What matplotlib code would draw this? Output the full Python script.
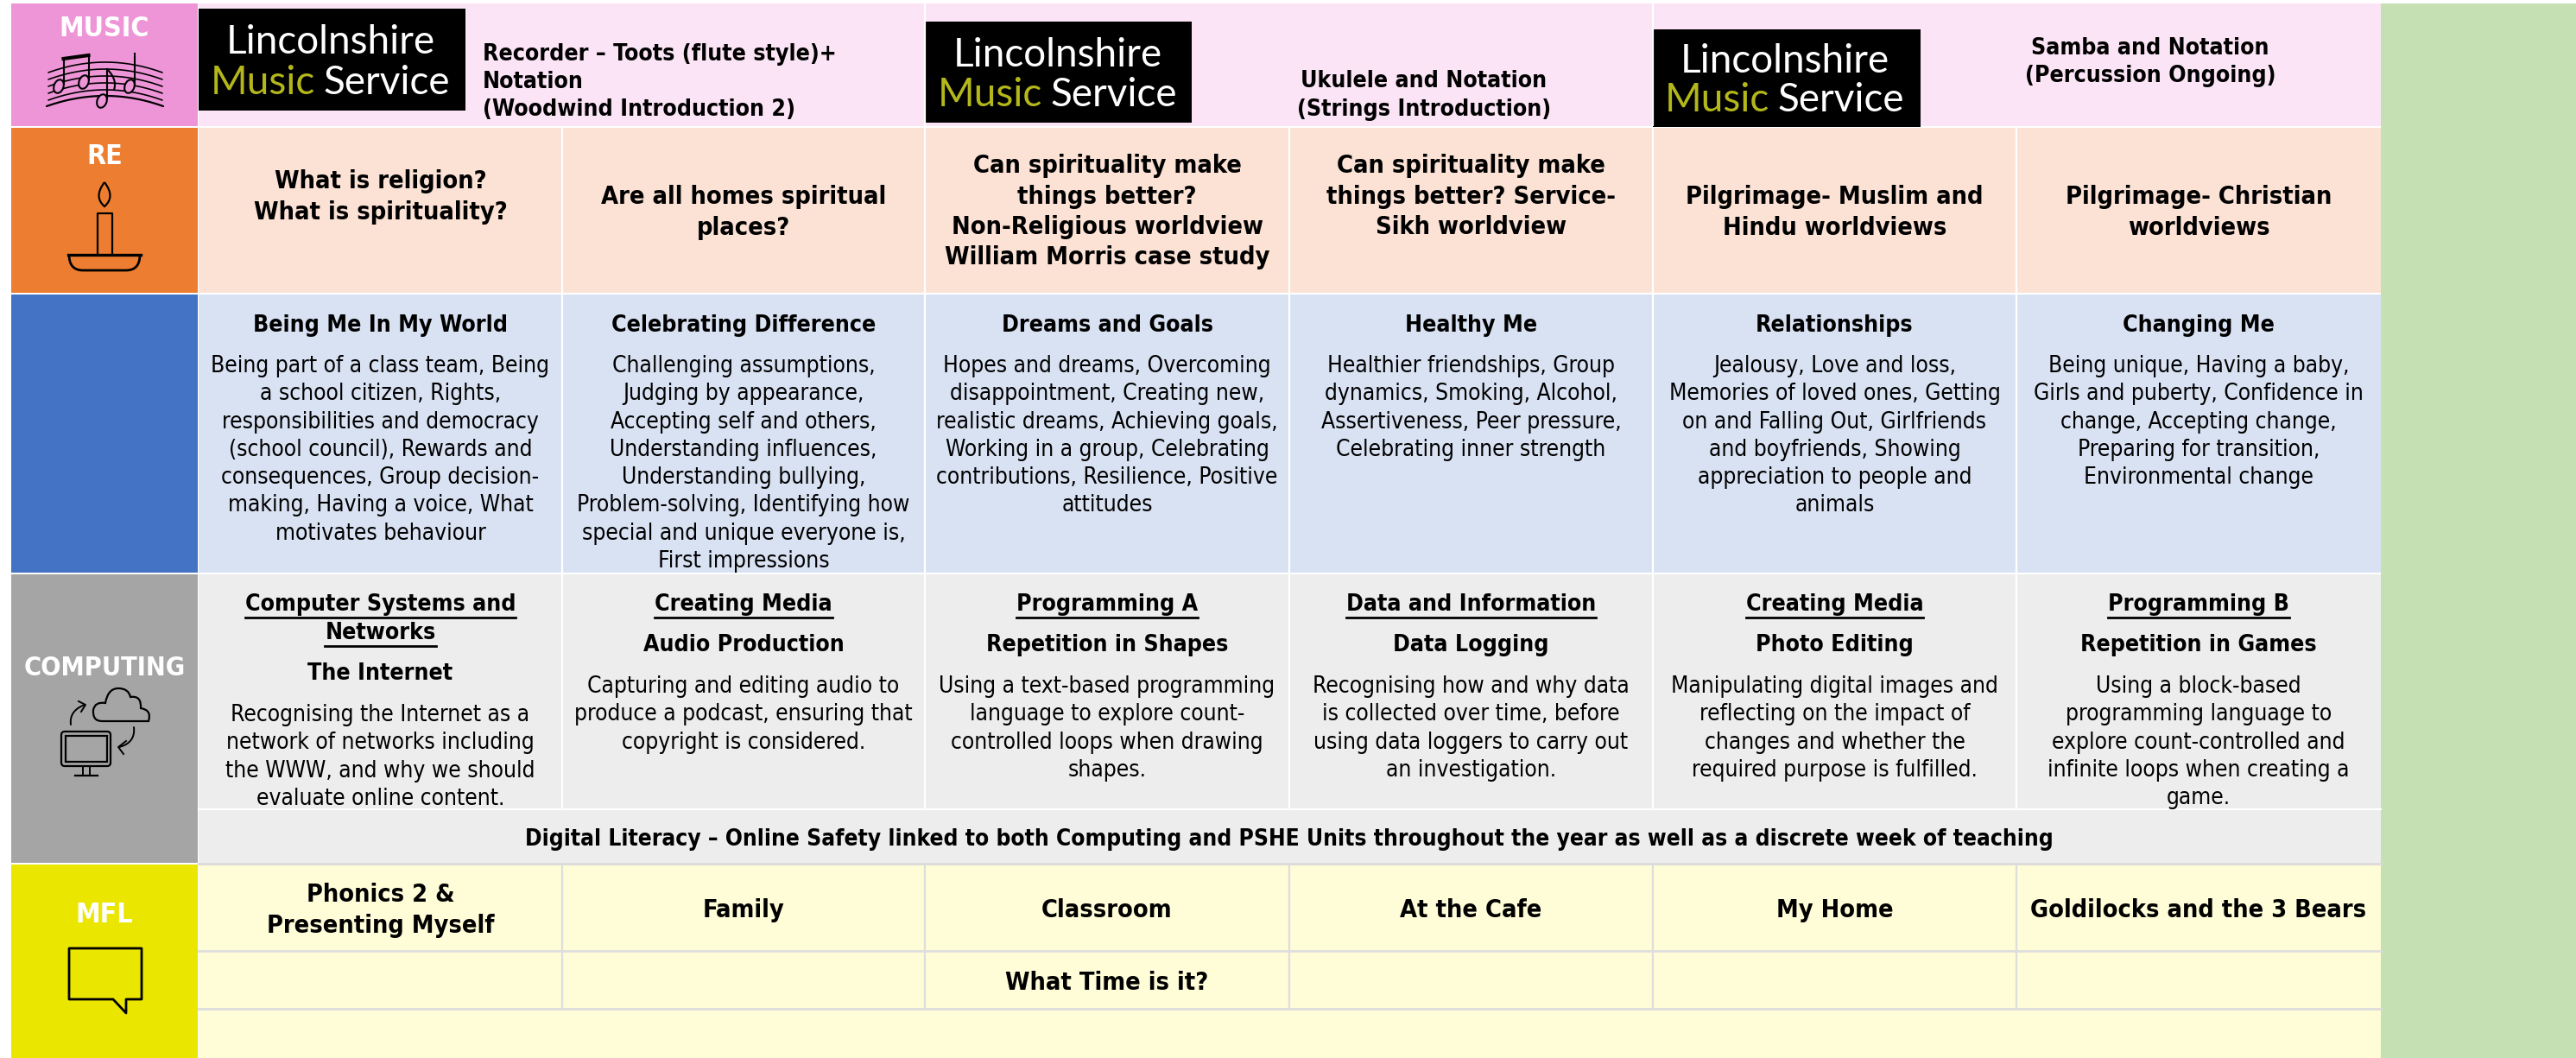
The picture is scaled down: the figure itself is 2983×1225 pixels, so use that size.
import matplotlib
matplotlib.use('Agg')
import matplotlib.pyplot as plt
from matplotlib.patches import Rectangle, Ellipse, PathPatch, Polygon, FancyBboxPatch
from matplotlib.path import Path
import numpy as np

plt.rcParams['font.family'] = ['DejaVu Sans']
plt.rcParams['font.stretch'] = 'condensed'

# column edges of the grid, in reference pixels
col_x = [230, 651, 1071, 1493, 1914, 2335, 2757]
W, H = 2983, 1225

labels = ['MUSIC', 'RE', 'COMPUTING', 'MFL']

music_1 = ['Recorder – Toots (flute style)+', 'Notation', '(Woodwind Introduction 2)']
music_2 = ['Ukulele and Notation', '(Strings Introduction)']
music_3 = ['Samba and Notation', '(Percussion Ongoing)']

re_cells = [
    ['What is religion?', 'What is spirituality?'],
    ['Are all homes spiritual', 'places?'],
    ['Can spirituality make', 'things better?', 'Non-Religious worldview', 'William Morris case study'],
    ['Can spirituality make', 'things better? Service-', 'Sikh worldview'],
    ['Pilgrimage- Muslim and', 'Hindu worldviews'],
    ['Pilgrimage- Christian', 'worldviews'],
]

pshe_titles = ['Being Me In My World', 'Celebrating Difference', 'Dreams and Goals',
               'Healthy Me', 'Relationships', 'Changing Me']
pshe_body = [
    ['Being part of a class team, Being', 'a school citizen, Rights,', 'responsibilities and democracy',
     '(school council), Rewards and', 'consequences, Group decision-', 'making, Having a voice, What',
     'motivates behaviour'],
    ['Challenging assumptions,', 'Judging by appearance,', 'Accepting self and others,',
     'Understanding influences,', 'Understanding bullying,', 'Problem-solving, Identifying how',
     'special and unique everyone is,', 'First impressions'],
    ['Hopes and dreams, Overcoming', 'disappointment, Creating new,', 'realistic dreams, Achieving goals,',
     'Working in a group, Celebrating', 'contributions, Resilience, Positive', 'attitudes'],
    ['Healthier friendships, Group', 'dynamics, Smoking, Alcohol,', 'Assertiveness, Peer pressure,',
     'Celebrating inner strength'],
    ['Jealousy, Love and loss,', 'Memories of loved ones, Getting', 'on and Falling Out, Girlfriends',
     'and boyfriends, Showing', 'appreciation to people and', 'animals'],
    ['Being unique, Having a baby,', 'Girls and puberty, Confidence in', 'change, Accepting change,',
     'Preparing for transition,', 'Environmental change'],
]

comp_heads = [['Computer Systems and', 'Networks'], ['Creating Media'], ['Programming A'],
              ['Data and Information'], ['Creating Media'], ['Programming B']]
comp_subs = ['The Internet', 'Audio Production', 'Repetition in Shapes', 'Data Logging',
             'Photo Editing', 'Repetition in Games']
comp_body = [
    ['Recognising the Internet as a', 'network of networks including', 'the WWW, and why we should',
     'evaluate online content.'],
    ['Capturing and editing audio to', 'produce a podcast, ensuring that', 'copyright is considered.'],
    ['Using a text-based programming', 'language to explore count-', 'controlled loops when drawing',
     'shapes.'],
    ['Recognising how and why data', 'is collected over time, before', 'using data loggers to carry out',
     'an investigation.'],
    ['Manipulating digital images and', 'reflecting on the impact of', 'changes and whether the',
     'required purpose is fulfilled.'],
    ['Using a block-based', 'programming language to', 'explore count-controlled and',
     'infinite loops when creating a', 'game.'],
]
digital = 'Digital Literacy – Online Safety linked to both Computing and PSHE Units throughout the year as well as a discrete week of teaching'

mfl_cells = [['Phonics 2 &', 'Presenting Myself'], ['Family'], ['Classroom'], ['At the Cafe'],
             ['My Home'], ['Goldilocks and the 3 Bears']]
mfl_time = 'What Time is it?'

fig = plt.figure(figsize=(W / 100, H / 100), dpi=100)
ax = fig.add_axes([0, 0, 1, 1])
ax.set_xlim(0, W)
ax.set_ylim(H, 0)
ax.axis('off')


def box(x0, y0, x1, y1, c):
    ax.add_patch(Rectangle((x0, y0), x1 - x0, y1 - y0, fc=c, ec='none', zorder=1))


def vlines(y0, y1, c='white', xs=col_x[1:-1]):
    for x in xs:
        ax.plot([x, x], [y0, y1], color=c, lw=1.6, zorder=2, solid_capstyle='butt')


def put(x, y, s, size=19, bold=False, color='black', ha='center', **kw):
    return ax.text(x, y, s, fontsize=size, fontweight='bold' if bold else 'normal',
                   color=color, ha=ha, va='center', zorder=5, **kw)


def curve(pts, lw=1.6, c='black'):
    pts = np.array(pts, float)
    t = np.linspace(0, 1, 60)
    # quadratic through three control points
    xy = np.outer((1 - t) ** 2, pts[0]) + np.outer(2 * t * (1 - t), pts[1]) + np.outer(t ** 2, pts[2])
    ax.plot(xy[:, 0], xy[:, 1], color=c, lw=lw, zorder=4, solid_capstyle='round')


def logo(x0, y0, w, h):
    box(x0, y0, x0 + w, y0 + h, 'black')
    ax.text(x0 + 153, y0 + h * 0.33, 'Lincolnshire', color='white', fontsize=33, family='Lato',
            stretch='normal', ha='center', va='center', zorder=5)
    ax.text(x0 + 74, y0 + h * 0.73, 'Music', color='#B4B71A', fontsize=33, family='Lato',
            stretch='normal', ha='center', va='center', zorder=5)
    ax.text(x0 + 218, y0 + h * 0.73, 'Service', color='white', fontsize=33, family='Lato',
            stretch='normal', ha='center', va='center', zorder=5)


# bands
box(0, 0, W, H, 'white')
box(2757, 4, W, H, '#C5E0B3')
box(13, 4, 229, 146, '#EE95D8')
box(230, 4, 2757, 146, '#FBE4F5')
box(13, 148, 229, 339, '#ED7D31')
box(230, 148, 2757, 339, '#FBE2D5')
box(13, 341, 229, 663, '#4472C4')
box(230, 341, 2757, 663, '#D9E2F3')
box(13, 665, 229, 999, '#A5A5A5')
box(230, 665, 2757, 1000, '#EDEDED')
box(13, 1001, 229, H, '#EAE600')
box(230, 1001, 2757, H, '#FFFCD8')

# grid lines
vlines(4, 146, xs=[1071, 1914])
vlines(148, 339)
vlines(341, 663)
vlines(665, 937)
ax.plot([230, 2757], [937, 937], color='white', lw=1.6, zorder=2)
ax.plot([230, 2757], [1000, 1000], color='#DADADA', lw=2, zorder=2)
vlines(1001, 1167, c='#DDDDDD')
ax.plot([230, 2757], [1101, 1101], color='#DDDDDD', lw=2, zorder=2)
ax.plot([230, 2757], [1168, 1168], color='#DDDDDD', lw=2, zorder=2)

# left column labels
label_y = [33, 181, 773, 1059]
label_size = [23, 23, 22, 23]
for s, y, sz in zip(labels, label_y, label_size):
    put(121, y, s, size=sz, bold=True, color='white')

# music row
logo(230, 10, 309, 118)
logo(1072, 25, 308, 117)
logo(1914, 34, 310, 113)
for i, s in enumerate(music_1):
    put(559, 63 + i * 32, s, size=19.2, bold=True, ha='left')
for i, s in enumerate(music_2):
    put(1649, 94 + i * 33, s, size=19.2, bold=True)
for i, s in enumerate(music_3):
    put(2490, 56 + i * 32, s, size=19.2, bold=True)

# RE row
mids = [(a + b) / 2 for a, b in zip(col_x[:-1], col_x[1:])]
re_top = [210, 228, 192, 192, 228, 228]
for cx, y0, lines in zip(mids, re_top, re_cells):
    for i, s in enumerate(lines):
        put(cx, y0 + i * 35.5, s, size=20.8, bold=True)

# PSHE row
for cx, t, body in zip(mids, pshe_titles, pshe_body):
    put(cx, 377, t, size=19.2, bold=True)
    for i, s in enumerate(body):
        put(cx, 424 + i * 32.3, s, size=18.9)

# computing row
fig.canvas.draw()
rend = fig.canvas.get_renderer()
for cx, heads, sub, body in zip(mids, comp_heads, comp_subs, comp_body):
    y = 700
    for s in heads:
        t = put(cx, y, s, size=19.2, bold=True)
        ext = t.get_window_extent(rend)
        ax.plot([ext.x0, ext.x1], [y + 15, y + 15], color='black', lw=2, zorder=5)
        y += 33
    y += 14
    put(cx, y, sub, size=19.2, bold=True)
    y += 48
    for s in body:
        put(cx, y, s, size=18.9)
        y += 32.3
put(1493, 972, digital, size=18.9, bold=True)

# MFL row
for cx, lines in zip(mids, mfl_cells):
    y0 = 1054 - (len(lines) - 1) * 36 / 2
    for i, s in enumerate(lines):
        put(cx, y0 + i * 36, s, size=20.7, bold=True)
put(mids[2], 1138, mfl_time, size=20.7, bold=True)

# music icon
for dy in [0, 8, 16, 24, 32]:
    curve([(56, 84 + dy), (122, 60 + dy), (188, 84 + dy)], lw=1.2)
curve([(54, 123), (122, 99), (189, 123)], lw=1.6)
for nx, ny, top in [(68, 100, 68), (97, 95, 64), (118, 117, 80), (150, 100, 62)]:
    ax.add_patch(Ellipse((nx, ny), 11, 16, angle=20, fc='#EE95D8', ec='black', lw=1.5, zorder=5))
    ax.plot([nx + 5.5, nx + 5.5], [ny - 3, top], color='black', lw=1.5, zorder=5)
ax.plot([73.5, 102.5], [68, 64], color='black', lw=3, zorder=5)
curve([(124, 80), (136, 92), (132, 104)], lw=1.5)

# candle icon
flame = Path([(121, 211), (134, 228), (121, 239), (108, 228), (121, 211)],
             [Path.MOVETO, Path.CURVE3, Path.CURVE3, Path.CURVE3, Path.CURVE3])
ax.add_patch(PathPatch(flame, fc='none', ec='black', lw=1.6, zorder=4))
ax.plot([113, 113, 130, 130], [295, 247, 247, 295], color='black', lw=1.6, zorder=4)
ax.plot([79, 163], [295, 295], color='black', lw=2.4, zorder=4)
bowl = Path([(80, 295), (80, 313), (96, 313), (146, 313), (162, 313), (162, 295)],
            [Path.MOVETO, Path.CURVE3, Path.CURVE3, Path.LINETO, Path.CURVE3, Path.CURVE3])
ax.add_patch(PathPatch(bowl, fc='none', ec='black', lw=2, zorder=4))

# computing icon
ax.add_patch(FancyBboxPatch((72, 848), 55, 38, boxstyle='round,pad=1,rounding_size=4', fc='none',
                            ec='black', lw=1.6, zorder=4))
ax.add_patch(Rectangle((76, 852), 48, 30, fc='none', ec='black', lw=1.6, zorder=4))
ax.plot([96, 96], [888, 897], color='black', lw=1.4, zorder=4)
ax.plot([103.5, 103.5], [888, 897], color='black', lw=1.4, zorder=4)
ax.plot([87, 112.5], [897.5, 897.5], color='black', lw=1.6, zorder=4)
cloud = Path([(118, 835), (107, 835), (108, 822), (110, 812), (122, 814), (125, 797), (137, 797),
              (149, 797), (151, 807), (164, 805), (163, 820), (176, 822), (172, 835), (118, 835)],
             [Path.MOVETO] + [Path.CURVE3] * 12 + [Path.LINETO])
ax.add_patch(PathPatch(cloud, fc='none', ec='black', lw=1.6, zorder=4))
curve([(82, 839), (80, 823), (98, 816)], lw=1.4)
ax.plot([91, 99, 94], [812, 816, 824], color='black', lw=1.4, zorder=4)
curve([(155, 842), (157, 860), (138, 865)], lw=1.4)
ax.plot([146, 137, 143], [858, 865, 873], color='black', lw=1.4, zorder=4)

# speech bubble icon
ax.add_patch(Polygon([(80, 1098), (164, 1098), (164, 1157), (146, 1157), (146, 1173), (131, 1157), (80, 1157)],
                     closed=True, fc='none', ec='black', lw=2, joinstyle='round', zorder=4))

fig.savefig('out.png', dpi=100)
